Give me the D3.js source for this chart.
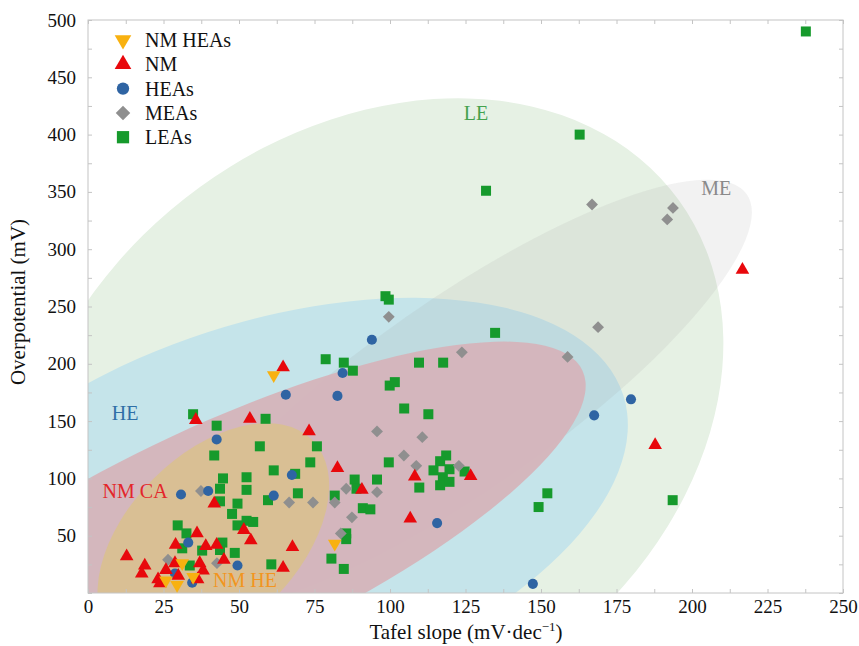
<!DOCTYPE html>
<html>
<head>
<meta charset="utf-8">
<script src="https://cdn.jsdelivr.net/npm/d3@7"></script>
<style>
  body { margin: 0; background: #fff; }
  text { font-family: "Liberation Serif", "Times New Roman", serif; }
</style>
</head>
<body>
<svg id="chart" width="859" height="646"></svg>
<script>
// data: [Tafel slope, overpotential]
var nmHeas = [[61.5,190],[81.7,43],[31.2,26],[25.8,11],[34.8,14],[29.5,7]]
var nm = [[216.7,282],[187.8,129],[64.6,197],[73.2,141],[82.6,109],[108.2,101.5],[126.7,102],
  [90.7,90],[106.7,65],[67.7,40],[64.6,22],[35.7,151],[53.6,152],[41.8,78],[51.6,55],[53.9,46],
  [36.1,52],[29,42],[39,41],[42.6,42],[45,29],[12.8,32],[18.8,24],[17.8,17],[28.8,26],[37,26],
  [25.8,20],[38.1,19.5],[29.9,15],[23.2,12],[23.8,8.5],[36.3,12]]
var heas = [[94,221],[84.3,192],[82.6,172],[65.5,173],[179.8,169],[167.6,155],[115.6,61],[147.3,8],
  [42.6,134],[30.8,86],[39.8,89],[61.5,85],[67.5,103],[33.2,44],[49.5,24],[28.8,17],[34.5,9]]
var meas = [[99.6,241],[123.8,210],[166.9,339],[193.7,336],[191.8,326],[168.9,232],[158.8,206],
  [95.7,141],[110.7,136],[104.6,120],[108.7,111],[122.8,111],[85.5,91],[95.7,88],[66.6,79],
  [74.5,79],[81.7,79],[87.4,66],[83.7,52],[37.4,89],[42.7,26],[26.5,29]]
var leas = [[237.7,490],[162.8,400],[131.8,351],[98.5,259],[99.6,256],[134.8,227],[152.1,87],
  [149.2,75],[193.6,81],[78.7,204],[84.7,201],[87.7,194],[109.6,201],[117.6,201],[99.9,181],
  [101.6,184],[104.7,161],[112.7,156],[75.8,128],[73.6,114],[99.6,114],[118.6,120],[116.6,115],
  [119.7,108],[114.4,107],[124.7,106],[117.5,101],[116.6,94],[119.7,97],[109.7,92],[95.7,99],
  [68.6,104],[88.3,99],[88.9,91],[69.5,87],[81.7,85],[91,74],[93.5,73],[85.5,52],[85.5,47],
  [80.6,30],[84.7,21],[34.8,156],[42.6,146],[58.8,152],[56.9,128],[41.8,120],[61.5,107],
  [44.7,100],[52.5,101],[43.7,91],[52.5,90],[59.6,81],[43.7,80],[49.5,78],[47.7,69],[49.5,59],
  [52.5,63],[54.7,62],[29.7,59],[32.6,52],[31.2,39],[44.5,44],[37.8,37],[43.7,37.5],[48.6,35],
  [60.7,25],[33.7,24]]

var seriesNames = ["NM HEAs", "NM", "HEAs", "MEAs", "LEAs"]
var xTicks = [0, 25, 50, 75, 100, 125, 150, 175, 200, 225, 250]
var yTicks = [50, 100, 150, 200, 250, 300, 350, 400, 450, 500]

// shaded regions: centre in data units, label position in data units
var regionNames = ["LE", "ME", "HE", "NM CA", "NM HE"]
var regionCentres = [[93.8,148], [123.2,172.8], [58.8,71.5], [43.7,46.5], [41.5,47.1]]
var regionLabelAt = [[128.5,419], [208,353], [12.3,157], [15.6,89], [52,11.3]]

var svg = d3.select("#chart")
var x = d3.scaleLinear().domain([0, 250]).range([88, 843])
var y = d3.scaleLinear().domain([0, 500]).range([593, 20])

svg.append("clipPath").attr("id", "plotClip")
  .append("rect").attr("x", 88).attr("y", 20).attr("width", 755).attr("height", 573)

/* ellipse shapes (pixel radii, screen rotation) */
var shapes = [
  {rx: 380, ry: 292, rot: -36, fill: "#e6f1e4", op: 1},
  {rx: 350, ry: 95, rot: -35, fill: "#9a9a9a", op: 0.13},
  {rx: 376, ry: 188, rot: -18, fill: "#c5e4ea", op: 1},
  {rx: 400, ry: 114, rot: -25, fill: "#d5b4ba", op: 0.95},
  {rx: 140, ry: 85, rot: -45, fill: "#d9bf94", op: 1}
]
var regionColors = ["#45a24d", "#8a8a8a", "#2f6fa6", "#e3262a", "#f2951f"]

var gRegions = svg.append("g").attr("clip-path", "url(#plotClip)")
var drawOrder = [0, 2, 1, 3, 4]
drawOrder.forEach(function(i) {
  var s = shapes[i], c = regionCentres[i]
  var cx = x(c[0]), cy = y(c[1])
  gRegions.append("ellipse")
    .attr("cx", cx).attr("cy", cy)
    .attr("rx", s.rx).attr("ry", s.ry)
    .attr("transform", "rotate(" + s.rot + "," + cx + "," + cy + ")")
    .attr("fill", s.fill)
    .attr("fill-opacity", s.op)
})

gRegions.selectAll("text.region")
  .data(regionNames)
  .enter().append("text")
  .attr("class", "region")
  .attr("x", function(d, i) { return x(regionLabelAt[i][0]) })
  .attr("y", function(d, i) { return y(regionLabelAt[i][1]) })
  .attr("text-anchor", "middle")
  .attr("dy", "0.35em")
  .style("font-size", "20px")
  .attr("fill", function(d, i) { return regionColors[i] })
  .text(function(d) { return d })

/* frame and inner ticks */
var frameColor = "#c4c4c4"
svg.append("rect").attr("x", 88).attr("y", 20).attr("width", 755).attr("height", 573)
  .attr("fill", "none").attr("stroke", frameColor)

var minorX = d3.range(0, 250.1, 12.5), minorY = d3.range(0, 500.1, 25)
function innerTicks(axis) {
  return function(g) {
    g.call(axis).call(function(g) { g.select(".domain").remove() })
    g.selectAll("line").attr("stroke", frameColor)
    g.selectAll("text").remove()
  }
}
svg.append("g").attr("transform", "translate(0,593)")
  .call(innerTicks(d3.axisBottom(x).tickValues(minorX).tickSize(-4)))
svg.append("g").attr("transform", "translate(0,20)")
  .call(innerTicks(d3.axisTop(x).tickValues(minorX).tickSize(-4)))
svg.append("g").attr("transform", "translate(88,0)")
  .call(innerTicks(d3.axisLeft(y).tickValues(minorY).tickSize(-4)))
svg.append("g").attr("transform", "translate(843,0)")
  .call(innerTicks(d3.axisRight(y).tickValues(minorY).tickSize(-4)))

/* tick labels */
var xAxis = svg.append("g").attr("transform", "translate(0,593)")
  .call(d3.axisBottom(x).tickValues(xTicks).tickSize(0).tickPadding(7))
var yAxis = svg.append("g").attr("transform", "translate(88,0)")
  .call(d3.axisLeft(y).tickValues(yTicks).tickSize(0).tickPadding(12))
;[xAxis, yAxis].forEach(function(a) {
  a.select(".domain").remove()
  a.selectAll("text").style("font-size", "19px").style("font-family", "Liberation Serif, serif")
    .attr("fill", "#111")
})

svg.append("text").attr("x", 466).attr("y", 639).attr("text-anchor", "middle")
  .style("font-size", "21px").attr("fill", "#111")
  .html("Tafel slope (mV·dec<tspan dy='-8' font-size='13'>−1</tspan><tspan dy='8'>)</tspan>")
svg.append("text").attr("transform", "translate(25,302) rotate(-90)")
  .attr("text-anchor", "middle").style("font-size", "21px").attr("fill", "#111")
  .text("Overpotential (mV)")

/* markers */
var seriesData = [nmHeas, nm, heas, meas, leas]
var seriesColor = ["#f8b110", "#e8080c", "#2f64a3", "#8f8f8f", "#169a2c"]
var seriesType = [d3.symbolTriangle, d3.symbolTriangle, d3.symbolCircle, d3.symbolSquare, d3.symbolSquare]
var seriesRot = [180, 0, 0, 45, 0]
var seriesSize = [80, 80, 80, 70, 100]

var gPts = svg.append("g").attr("clip-path", "url(#plotClip)")
var order = [4, 3, 2, 1, 0]
order.forEach(function(k) {
  gPts.selectAll("path.s" + k)
    .data(seriesData[k])
    .enter().append("path")
    .attr("class", "s" + k)
    .attr("d", d3.symbol().type(seriesType[k]).size(seriesSize[k]))
    .attr("fill", seriesColor[k])
    .attr("transform", function(d) {
      return "translate(" + x(d[0]) + "," + y(d[1]) + ") rotate(" + seriesRot[k] + ")"
    })
})

/* legend */
var legend = svg.append("g")
seriesNames.forEach(function(name, k) {
  var ly = 40 + k * 24.3
  legend.append("path")
    .attr("d", d3.symbol().type(seriesType[k]).size(seriesSize[k] * 1.5))
    .attr("fill", seriesColor[k])
    .attr("transform", "translate(123," + ly + ") rotate(" + seriesRot[k] + ")")
  legend.append("text").attr("x", 145).attr("y", ly).attr("dy", "0.35em")
    .style("font-size", "20px").attr("fill", "#111").text(name)
})
</script>
</body>
</html>
